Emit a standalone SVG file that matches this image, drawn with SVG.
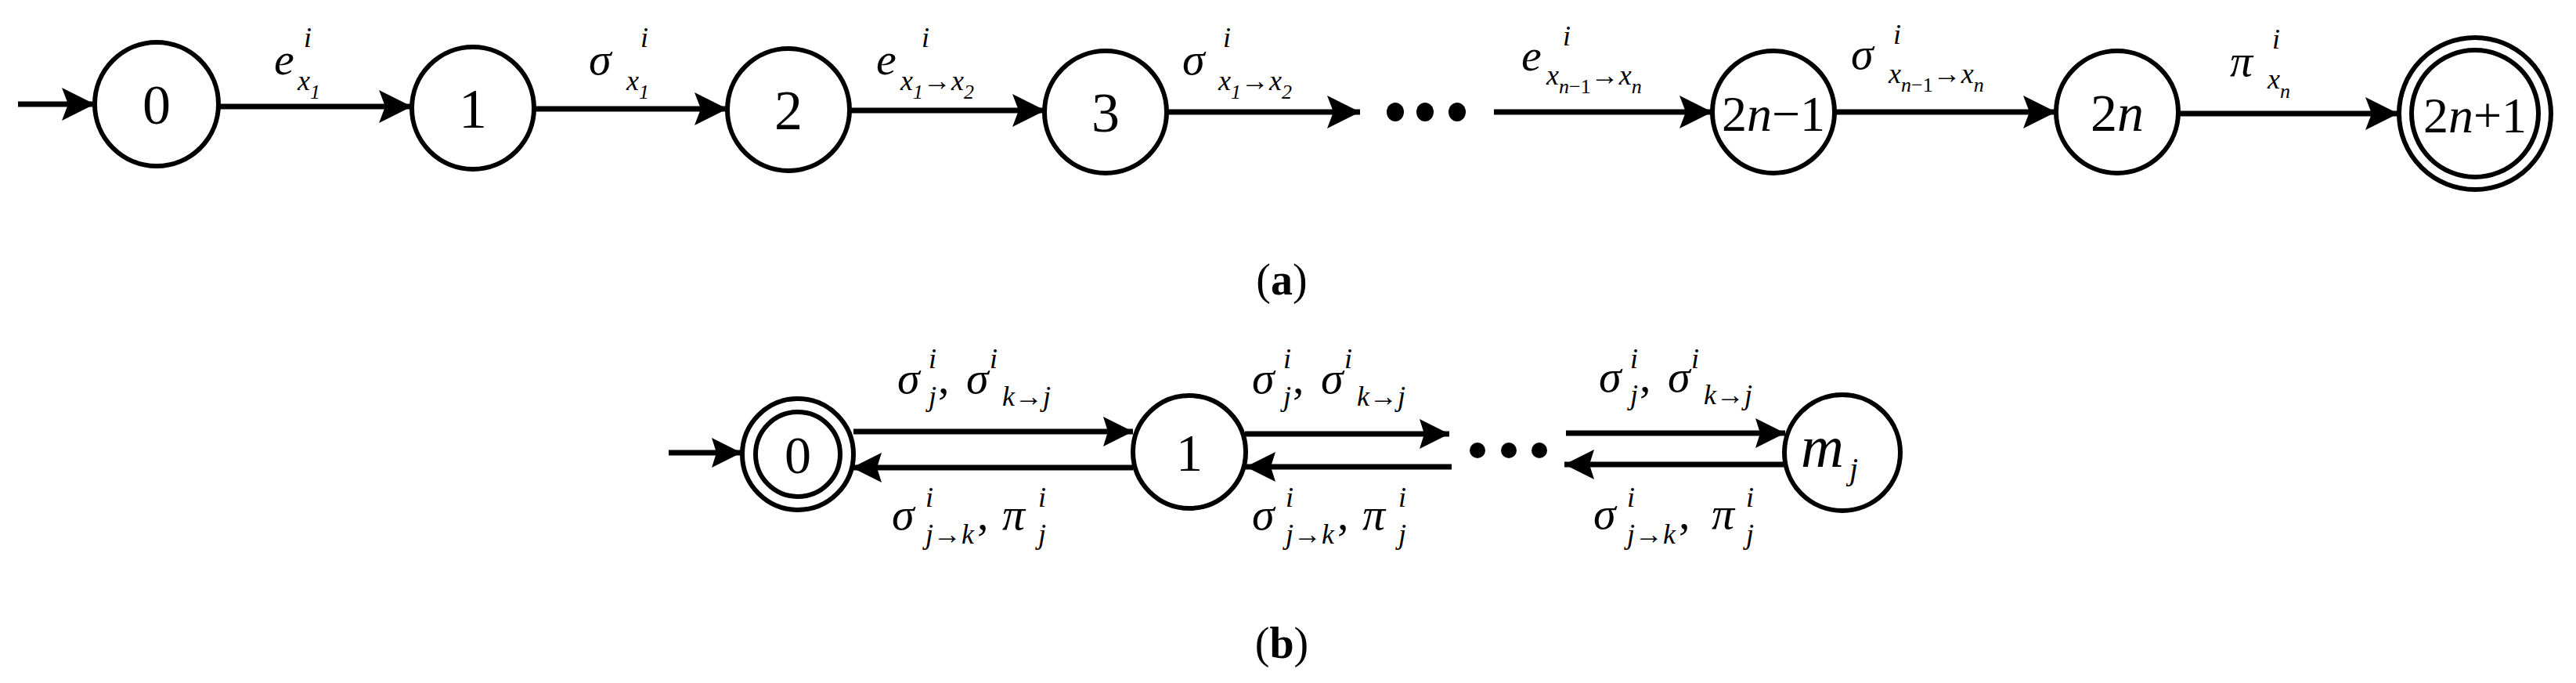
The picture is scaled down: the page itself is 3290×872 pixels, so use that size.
<svg xmlns="http://www.w3.org/2000/svg" width="3290" height="872" viewBox="0 0 3290 872">
<style>
text{font-family:"Liberation Serif","Times New Roman",serif;fill:#000}
.it{font-style:italic}
.n{font-size:72px;text-anchor:middle}
.m{font-size:58px;font-style:italic}
.s{font-size:36px;font-style:italic}
.ss{font-size:26px}
.node{fill:#fff;stroke:#000;stroke-width:6}
.e{stroke:#000;stroke-width:7;fill:none}
.cap{font-size:56px;text-anchor:middle}
</style>
<defs>
<marker id="ah" markerUnits="userSpaceOnUse" markerWidth="44" markerHeight="44" refX="42" refY="21" orient="auto">
<path d="M0,0 L42,21 L0,42 L8,21 z" fill="#000"/>
</marker>
<marker id="bh" markerUnits="userSpaceOnUse" markerWidth="40" markerHeight="40" refX="38" refY="19" orient="auto">
<path d="M0,0 L38,19 L0,38 L6,19 z" fill="#000"/>
</marker>
</defs>
<rect width="3290" height="872" fill="#fff"/>

<g id="connectors">
<line class="e" x1="23" y1="133" x2="121" y2="133" marker-end="url(#ah)"/>
<line class="e" x1="279" y1="136" x2="526" y2="136" marker-end="url(#ah)"/>
<line class="e" x1="682" y1="139" x2="929" y2="139" marker-end="url(#ah)"/>
<line class="e" x1="1084" y1="141" x2="1335" y2="141" marker-end="url(#ah)"/>
<line class="e" x1="1490" y1="143" x2="1737" y2="143" marker-end="url(#ah)"/>
<line class="e" x1="1908" y1="143" x2="2187" y2="143" marker-end="url(#ah)"/>
<line class="e" x1="2343" y1="143" x2="2626" y2="143" marker-end="url(#ah)"/>
<line class="e" x1="2782" y1="145" x2="3063" y2="145" marker-end="url(#ah)"/>
<ellipse cx="1782" cy="143" rx="11" ry="12"/>
<ellipse cx="1820" cy="143" rx="11" ry="12"/>
<ellipse cx="1861" cy="143" rx="11" ry="12"/>

<line class="e" x1="854" y1="578" x2="947" y2="578" marker-end="url(#bh)"/>
<line class="e" x1="1090" y1="551" x2="1447" y2="551" marker-end="url(#bh)"/>
<line class="e" x1="1447" y1="597" x2="1088" y2="597" marker-end="url(#bh)"/>
<line class="e" x1="1590" y1="554" x2="1851" y2="554" marker-end="url(#bh)"/>
<line class="e" x1="1854" y1="596" x2="1591" y2="596" marker-end="url(#bh)"/>
<line class="e" x1="2000" y1="553" x2="2280" y2="553" marker-end="url(#bh)"/>
<line class="e" x1="2280" y1="593" x2="1998" y2="593" marker-end="url(#bh)"/>
<circle cx="1887" cy="575" r="10"/>
<circle cx="1927" cy="575" r="10"/>
<circle cx="1966" cy="575" r="10"/>
</g>

<g id="a-labels">
<text class="m" x="350" y="95">e</text><text class="s" x="388" y="60">i</text><text class="s" x="380" y="115">x<tspan class="ss" dy="11">1</tspan></text>
<text class="m" x="752" y="95">σ</text><text class="s" x="818" y="60">i</text><text class="s" x="800" y="115">x<tspan class="ss" dy="11">1</tspan></text>
<text class="m" x="1119" y="95">e</text><text class="s" x="1177" y="60">i</text><text class="s" x="1150" y="115">x<tspan class="ss" dy="11">1</tspan><tspan dy="-11">→x</tspan><tspan class="ss" dy="11">2</tspan></text>
<text class="m" x="1510" y="95">σ</text><text class="s" x="1562" y="60">i</text><text class="s" x="1556" y="115">x<tspan class="ss" dy="11">1</tspan><tspan dy="-11">→x</tspan><tspan class="ss" dy="11">2</tspan></text>
<text class="m" x="1943" y="90">e</text><text class="s" x="1996" y="58">i</text><text class="s" x="1975" y="108">x<tspan class="ss it" dy="11">n</tspan><tspan class="ss" style="font-style:normal">−1</tspan><tspan dy="-11" style="font-style:normal">→</tspan><tspan>x</tspan><tspan class="ss" dy="11">n</tspan></text>
<text class="m" x="2364" y="88">σ</text><text class="s" x="2418" y="56">i</text><text class="s" x="2412" y="106">x<tspan class="ss it" dy="11">n</tspan><tspan class="ss" style="font-style:normal">−1</tspan><tspan dy="-11" style="font-style:normal">→</tspan><tspan>x</tspan><tspan class="ss" dy="11">n</tspan></text>
<text class="m" x="2848" y="97">π</text><text class="s" x="2902" y="62">i</text><text class="s" x="2896" y="113">x<tspan class="ss" dy="12">n</tspan></text>
</g>

<g id="b-labels">
<text class="m" x="1146" y="502">σ</text><text class="s" x="1186" y="470">i</text><text class="s" x="1186" y="518">j</text><text class="m" x="1198" y="502" style="font-style:normal">,</text><text class="m" x="1234" y="502">σ</text><text class="s" x="1264" y="470">i</text><text class="s" x="1280" y="518">k<tspan style="font-style:normal">→</tspan>j</text>
<text class="m" x="1599" y="502">σ</text><text class="s" x="1639" y="470">i</text><text class="s" x="1639" y="518">j</text><text class="m" x="1651" y="502" style="font-style:normal">,</text><text class="m" x="1687" y="502">σ</text><text class="s" x="1717" y="470">i</text><text class="s" x="1733" y="518">k<tspan style="font-style:normal">→</tspan>j</text>
<text class="m" x="2042" y="500">σ</text><text class="s" x="2082" y="470">i</text><text class="s" x="2082" y="516">j</text><text class="m" x="2094" y="500" style="font-style:normal">,</text><text class="m" x="2130" y="500">σ</text><text class="s" x="2160" y="470">i</text><text class="s" x="2176" y="516">k<tspan style="font-style:normal">→</tspan>j</text>

<text class="m" x="1139" y="676">σ</text><text class="s" x="1182" y="647">i</text><text class="s" x="1182" y="694">j<tspan style="font-style:normal">→</tspan>k</text><text class="m" x="1248" y="676" style="font-style:normal">,</text><text class="m" x="1280" y="676">π</text><text class="s" x="1326" y="647">i</text><text class="s" x="1326" y="694">j</text>
<text class="m" x="1599" y="676">σ</text><text class="s" x="1642" y="647">i</text><text class="s" x="1642" y="694">j<tspan style="font-style:normal">→</tspan>k</text><text class="m" x="1708" y="676" style="font-style:normal">,</text><text class="m" x="1740" y="676">π</text><text class="s" x="1786" y="647">i</text><text class="s" x="1786" y="694">j</text>
<text class="m" x="2035" y="675">σ</text><text class="s" x="2078" y="647">i</text><text class="s" x="2078" y="694">j<tspan style="font-style:normal">→</tspan>k</text><text class="m" x="2144" y="675" style="font-style:normal">,</text><text class="m" x="2186" y="675">π</text><text class="s" x="2230" y="647">i</text><text class="s" x="2230" y="694">j</text>
</g>

<g id="a0"><circle class="node" cx="200" cy="133" r="79"/><text class="n" x="200" y="158">0</text></g>
<g id="a1"><circle class="node" cx="604" cy="138" r="78"/><text class="n" x="604" y="163">1</text></g>
<g id="a2"><circle class="node" cx="1007" cy="140" r="78"/><text class="n" x="1007" y="165">2</text></g>
<g id="a3"><circle class="node" cx="1412" cy="143" r="78"/><text class="n" x="1412" y="168">3</text></g>
<g id="a2n-1"><circle class="node" cx="2265" cy="143" r="78"/><text class="n" x="2265" y="167" style="font-size:64px">2<tspan class="it">n</tspan>−1</text></g>
<g id="a2n"><circle class="node" cx="2704" cy="143" r="78"/><text class="n" x="2704" y="167" style="font-size:68px">2<tspan class="it">n</tspan></text></g>
<g id="a2n+1"><circle class="node" cx="3161" cy="145" r="97"/><circle class="node" cx="3161" cy="145" r="81"/><text class="n" x="3161" y="169" style="font-size:64px">2<tspan class="it">n</tspan>+1</text></g>

<g id="b0"><circle class="node" cx="1019" cy="580" r="71"/><circle class="node" cx="1019" cy="580" r="54"/><text class="n" x="1019" y="604" style="font-size:68px">0</text></g>
<g id="b1"><circle class="node" cx="1519" cy="577" r="72"/><text class="n" x="1519" y="601" style="font-size:68px">1</text></g>
<g id="bmj"><circle class="node" cx="2353" cy="578" r="74"/><text class="m" x="2300" y="596" style="font-size:76px">m</text><text class="s" x="2362" y="612" style="font-size:40px">j</text></g>

<text class="cap" x="1637" y="376">(<tspan font-weight="bold">a</tspan>)</text>
<text class="cap" x="1637" y="840">(<tspan font-weight="bold">b</tspan>)</text>
</svg>
